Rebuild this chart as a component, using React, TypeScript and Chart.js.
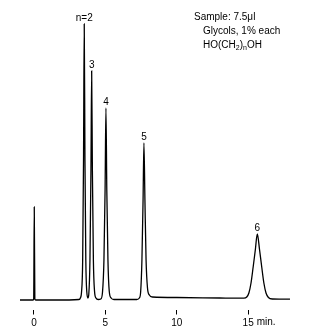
import { useEffect, useRef } from "react";
import { Chart, registerables } from "chart.js";

Chart.register(...registerables);

// Chromatogram trace (retention time in minutes, detector signal in arbitrary units)
const retentionTimes = [
  -0.98, -0.06, -0.02, 0.02, 0.06, 0.12, 1.5, 3.15, 3.25, 3.33, 3.41, 3.47, 3.52,
  3.57, 3.63, 3.7, 3.78, 3.84, 3.92, 3.99, 4.04, 4.09, 4.16, 4.24, 4.34, 4.5, 4.68,
  4.8, 4.9, 4.98, 5.04, 5.1, 5.18, 5.27, 5.4, 5.6, 7.2, 7.38, 7.47, 7.56, 7.64, 7.7,
  7.77, 7.85, 7.95, 8.08, 8.3, 10, 13, 14.7, 14.9, 15.05, 15.2, 15.35, 15.5, 15.64,
  15.8, 15.95, 16.1, 16.25, 16.42, 16.7, 17.93,
];
const detectorSignal = [
  0, 0, 1, 93, 1, 0, 0, 0.5, 2, 8, 40, 140, 276,
  140, 40, 8, 2, 6, 40, 130, 229, 130, 40, 9, 2, 0.5, 1,
  8, 40, 110, 192, 110, 40, 9, 2, 0.5, 0.5, 2, 8, 40, 100, 157,
  100, 40, 12, 5, 3, 2.5, 2, 1.8, 3, 7, 17, 33, 50, 66,
  50, 33, 17, 7, 2.5, 1, 0.8,
];

// Peak identification
const peakTimes = [3.52, 4.04, 5.04, 7.7, 15.64];
const peakLabels = ["n=2", "3", "4", "5", "6"];

// Axis
const xTickValues = [0, 5, 10, 15];
const xTickLabels = ["0", "5", "10", "15"];
const xUnitLabel = "min.";

// Annotation
const sampleLine = "Sample: 7.5\u03bcl";
const glycolLine = "Glycols, 1% each";

const FONT = "'Liberation Sans', Arial, Helvetica, sans-serif";

export default function App() {
  const ref = useRef<HTMLCanvasElement>(null);

  useEffect(() => {
    document.body.style.margin = "0";
    const canvas = ref.current;
    if (!canvas) return;

    const textPlugin = {
      id: "chromText",
      afterDraw(chart: any) {
        const ctx = chart.ctx as CanvasRenderingContext2D;
        const xs = chart.scales.x;
        const ys = chart.scales.y;
        ctx.save();
        ctx.fillStyle = "#000";

        // peak labels
        ctx.font = `10px ${FONT}`;
        ctx.textAlign = "center";
        ctx.textBaseline = "bottom";
        peakTimes.forEach((t, i) => {
          const idx = retentionTimes.indexOf(t);
          const v = detectorSignal[idx];
          ctx.fillText(peakLabels[i], xs.getPixelForValue(t), ys.getPixelForValue(v) - 1);
        });

        // unit label after last tick
        ctx.textAlign = "left";
        ctx.textBaseline = "top";
        const lastVal = xTickValues[xTickValues.length - 1];
        const lastLbl = xTickLabels[xTickLabels.length - 1];
        const lx = xs.getPixelForValue(lastVal) + ctx.measureText(lastLbl).width / 2 + 3;
        ctx.fillText(xUnitLabel, lx, chart.chartArea.bottom + 5 + 3);

        // annotation block
        ctx.textBaseline = "alphabetic";
        ctx.font = `10px ${FONT}`;
        ctx.fillText(sampleLine, 194, 20);
        ctx.fillText(glycolLine, 203, 34);
        let x = 203;
        const y3 = 48;
        const parts: [string, boolean][] = [
          ["HO(CH", false],
          ["2", true],
          [")", false],
          ["n", true],
          ["OH", false],
        ];
        parts.forEach(([s, sub]) => {
          ctx.font = sub ? `7px ${FONT}` : `10px ${FONT}`;
          ctx.fillText(s, x, sub ? y3 + 2 : y3);
          x += ctx.measureText(s).width;
        });
        ctx.restore();
      },
    };

    const chart = new Chart(canvas, {
      type: "line",
      data: {
        datasets: [
          {
            data: retentionTimes.map((t, i) => ({ x: t, y: detectorSignal[i] })),
            borderColor: "#000",
            borderWidth: 1.3,
            pointRadius: 0,
            fill: false,
            cubicInterpolationMode: "monotone",
          },
        ],
      },
      options: {
        responsive: false,
        animation: false,
        layout: { padding: { left: 19.7, right: 20, top: 10, bottom: 1.5 } },
        plugins: { legend: { display: false }, tooltip: { enabled: false } },
        scales: {
          x: {
            type: "linear",
            min: -1,
            max: 18,
            afterBuildTicks: (s: any) => {
              s.ticks = xTickValues.map((v) => ({ value: v }));
            },
            grid: {
              drawOnChartArea: false,
              drawTicks: true,
              tickLength: 5,
              color: "#000",
              lineWidth: 1,
            },
            border: { display: false },
            ticks: {
              color: "#000",
              font: { family: FONT, size: 10 },
              padding: 3,
              maxRotation: 0,
              autoSkip: false,
              callback: (v: any) => {
                const i = xTickValues.indexOf(Number(v));
                return i >= 0 ? xTickLabels[i] : "";
              },
            },
          },
          y: { display: false, min: -9.5, max: 290 },
        },
      },
      plugins: [textPlugin],
    } as any);

    return () => chart.destroy();
  }, []);

  return <canvas ref={ref} width={311} height={334} style={{ display: "block" }} />;
}
